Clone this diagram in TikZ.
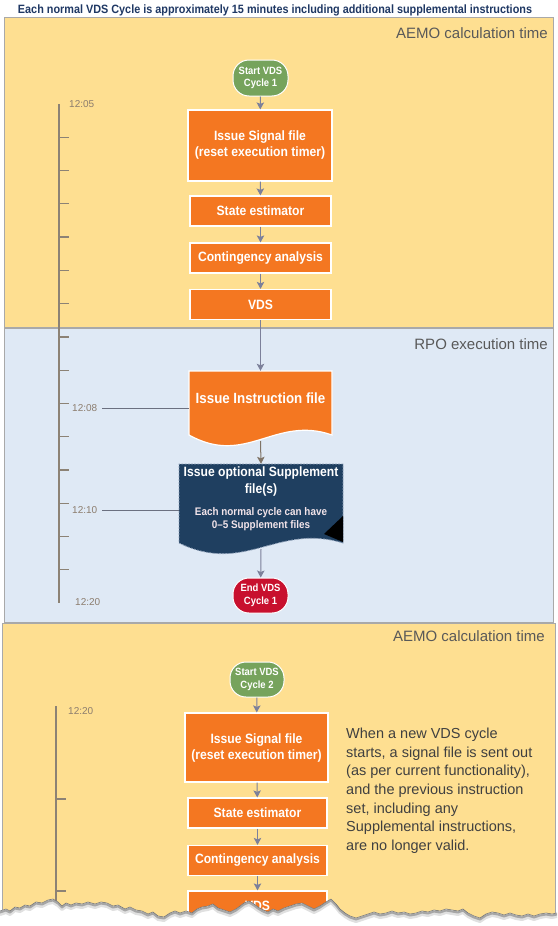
\documentclass[tikz,border=0pt]{standalone}
\usepackage{fontspec}
\setmainfont{Liberation Sans}
\newfontfamily\cond[FakeStretch=0.9]{Liberation Sans}
\usetikzlibrary{arrows.meta}
\definecolor{panelY}{HTML}{FEDF91}
\definecolor{panelB}{HTML}{DFE9F5}
\definecolor{panelBorder}{HTML}{A9A9A9}
\definecolor{orangeC}{HTML}{F47721}
\definecolor{greenC}{HTML}{76A35C}
\definecolor{redC}{HTML}{C8102E}
\definecolor{navyC}{HTML}{1F3F60}
\definecolor{dashC}{HTML}{8FA0B8}
\definecolor{titleC}{HTML}{1F3864}
\definecolor{arrC}{HTML}{7C809A}
\definecolor{arrB}{HTML}{7F7366}
\definecolor{tickC}{HTML}{8C8275}
\definecolor{tlabC}{HTML}{8C7D6E}
\definecolor{hlineC}{HTML}{6B7080}
\definecolor{plabC}{HTML}{595959}
\definecolor{bodyC}{HTML}{404040}
\definecolor{subC}{HTML}{F2E4EA}
\newcommand\tornpts{(0,911) -- (6,909) -- (10,911) -- (15,907) -- (20,908) -- (25,905) -- (30,906) -- (36,902) -- (42,903) -- (48,900) -- (53,899) -- (58,902) -- (62,906) -- (66,903) -- (71,905) -- (76,903) -- (82,904) -- (88,902) -- (95,904) -- (101,902) -- (107,903) -- (113,906) -- (118,905) -- (125,909) -- (130,907) -- (136,910) -- (142,911) -- (148,914) -- (153,912) -- (158,916) -- (164,917) -- (170,913) -- (175,911) -- (180,913) -- (186,911) -- (192,913) -- (197,909) -- (202,907) -- (208,906) -- (213,904) -- (218,908) -- (224,910) -- (230,912) -- (236,909) -- (240,906) -- (244,903) -- (249,901) -- (254,904) -- (258,907) -- (263,910) -- (268,912) -- (273,909) -- (278,911) -- (284,908) -- (290,906) -- (296,904) -- (302,903) -- (308,906) -- (314,909) -- (320,906) -- (326,902) -- (331,899) -- (336,904) -- (340,909) -- (345,913) -- (350,916) -- (356,918) -- (362,916) -- (368,914) -- (374,912) -- (380,914) -- (386,913) -- (392,911) -- (398,913) -- (404,912) -- (410,914) -- (416,913) -- (422,911) -- (428,912) -- (434,910) -- (440,911) -- (446,909) -- (452,910) -- (458,911) -- (463,909) -- (468,913) -- (474,916) -- (480,918) -- (486,914) -- (492,912) -- (498,913) -- (504,915) -- (510,913) -- (516,915) -- (522,916) -- (528,914) -- (534,916) -- (540,914) -- (546,913) -- (552,914) -- (557,913)}
\begin{document}
\begin{tikzpicture}[x=1pt,y=-1pt,
  startn/.style={draw=white, line width=1pt, rounded corners=16pt, minimum width=55pt, minimum height=36pt, inner sep=0pt, align=center, text=white, font=\cond\bfseries\fontsize{10.5}{12.5}\selectfont},
  box/.style={fill=orangeC, draw=white, line width=1.2pt, text=white, align=center, inner sep=0pt, minimum width=141pt, minimum height=30pt, font=\cond\bfseries\fontsize{13.5}{16}\selectfont},
  arr/.style={draw=arrC, line width=1pt, -{Stealth[length=7pt,width=7.5pt,inset=1.5pt]}},
  arrb/.style={draw=arrB, line width=1pt, -{Stealth[length=7pt,width=7.5pt,inset=1.5pt]}},
  tline/.style={draw=tickC, line width=1.3pt},
  tlab/.style={text=tlabC, font=\fontsize{10}{12}\selectfont, inner sep=0pt},
  hline/.style={draw=hlineC, line width=1pt},
  plab/.style={text=plabC, font=\fontsize{15}{18}\selectfont, inner sep=0pt, anchor=east},
  panel/.style={draw=panelBorder, line width=0.6pt}
]
\useasboundingbox (0,0) rectangle (557,926);
\fill[white] (0,0) rectangle (557,926);
% title
\node[text=titleC, font=\cond\bfseries\fontsize{12.05}{14}\selectfont, inner sep=0pt] (title) at (275,10) {Each normal VDS Cycle is approximately 15 minutes including additional supplemental instructions};
% panels
\draw[panel, fill=panelY] (4,17) rectangle (553,327);
\draw[panel, fill=panelB] (4,328) rectangle (553,622);
\fill[panelY] (2,623) rectangle (555,926);
\draw[panel] (2,926) -- (2,623) -- (555,623) -- (555,926);
\node[plab] (p1) at (548,33) {AEMO calculation time};
\node[plab] (p2) at (548,344) {RPO execution time};
\node[plab] (p3) at (545,636) {AEMO calculation time};
% timeline 1
\coordinate (tA) at (59,104);
\coordinate (tB) at (59,603);
\draw[tline] (tA) -- (tB);
\foreach \k in {1,...,14} {\draw[tline] (59,{104+33.27*\k}) -- (69,{104+33.27*\k});}
\node[tlab, anchor=west] (l05) at (69,104) {12:05};
\node[tlab, anchor=west] (l08) at (72,408) {12:08};
\node[tlab, anchor=west] (l10) at (72,510) {12:10};
\node[tlab, anchor=west] (l20a) at (75,602) {12:20};
% cycle 1 nodes
\node[startn, fill=greenC] (s1) at (260.5,78) {Start VDS\\Cycle 1};
\node[box, minimum width=144pt, minimum height=71pt] (sig1) at (260,145.5) {Issue Signal file\\(reset execution timer)};
\node[box] (se1) at (260.5,211) {State estimator};
\node[box] (ca1) at (260.5,258) {Contingency analysis};
\node[box] (vds1) at (260.5,304.5) {VDS};
% instruction document
\fill[orangeC] (189,435) .. controls (246,467) and (275,415) .. (332,435) -- (332,371) -- (189,371) -- cycle;
\draw[white, line width=1.2pt] (189,435) .. controls (246,467) and (275,415) .. (332,435) -- (332,371) -- (189,371) -- cycle;
\node[inner sep=0pt, minimum width=143pt, minimum height=64pt] (instr) at (260.5,403) {};
\node[text=white, inner sep=0pt, font=\cond\bfseries\fontsize{14.8}{17}\selectfont] (instrlbl) at (260.5,398) {Issue Instruction file};
\coordinate (instrbot) at (260.5,441);
% supplement document
\fill[navyC] (179,543) .. controls (245,575) and (277,523) .. (343,543) -- (343,464) -- (179,464) -- cycle;
\draw[draw=dashC, line width=0.8pt, dash pattern=on 2pt off 1.2pt] (179,543) .. controls (245,575) and (277,523) .. (343,543) -- (343,464) -- (179,464) -- cycle;
\fill[black] (343,516) -- (324,534) -- (343,542) -- cycle;
\node[inner sep=0pt, minimum width=164pt, minimum height=79pt] (supp) at (261,503.5) {};
\node[text=white, inner sep=0pt, align=center, font=\cond\bfseries\fontsize{13.5}{17}\selectfont] (suppT) at (261,481.5) {Issue optional Supplement\\file(s)};
\node[text=subC, inner sep=0pt, align=center, font=\cond\bfseries\fontsize{11}{13}\selectfont] (suppS) at (261,519.5) {Each normal cycle can have\\0–5 Supplement files};
\coordinate (suppbot) at (261,549);
\node[startn, fill=redC, minimum height=35pt] (e1) at (260.5,595.5) {End VDS\\Cycle 1};
% connectors cycle 1
\draw[arr] (s1) -- (sig1);
\draw[arr] (sig1) -- (se1);
\draw[arr] (se1) -- (ca1);
\draw[arr] (ca1) -- (vds1);
\draw[arr] (vds1) -- (instr.north);
\draw[arrb] (instrbot) -- (supp.north);
\draw[arr] (suppbot) -- (e1);
\draw[hline] (l08.east) ++(5,0) -- (l08.east -| instr.west);
\draw[hline] (l10.east) ++(5,0) -- (l10.east -| supp.west);
% timeline 2
\coordinate (tC) at (56,706);
\coordinate (tD) at (56,926);
\draw[tline] (tC) -- (tD);
\draw[tline] (56,799) -- (66,799);
\draw[tline] (56,891) -- (66,891);
\node[tlab, anchor=west] (l20b) at (68,711) {12:20};
% cycle 2 nodes
\node[startn, fill=greenC, minimum width=54pt, minimum height=35pt] (s2) at (257,679.5) {Start VDS\\Cycle 2};
\node[box, minimum width=143pt, minimum height=69pt] (sig2) at (256.5,747.5) {Issue Signal file\\(reset execution timer)};
\node[box, minimum width=139pt] (se2) at (257.5,813) {State estimator};
\node[box, minimum width=139pt] (ca2) at (257.5,860.5) {Contingency analysis};
\node[box, minimum width=139pt] (vds2) at (257.5,906) {VDS};
\draw[arr] (s2) -- (sig2);
\draw[arr] (sig2) -- (se2);
\draw[arr] (se2) -- (ca2);
\draw[arr] (ca2) -- (vds2);
\node[anchor=north west, inner sep=0pt, align=left, text=bodyC, font=\fontsize{14.5}{18.6}\selectfont] (note) at (346,728) {When a new VDS cycle\\starts, a signal file is sent out\\(as per current functionality),\\and the previous instruction\\set, including any\\Supplemental instructions,\\are no longer valid.};
% torn edge
\fill[white] \tornpts -- (557,926) -- (0,926) -- cycle;
\begin{scope}[yshift=-3.5pt]
\draw[black!12, line width=3pt, line join=round] \tornpts;
\end{scope}
\begin{scope}[yshift=-1.5pt]
\draw[black!35, line width=2pt, line join=round] \tornpts;
\end{scope}
\draw[black!55, line width=0.6pt, line join=round] \tornpts;
\end{tikzpicture}
\end{document}
